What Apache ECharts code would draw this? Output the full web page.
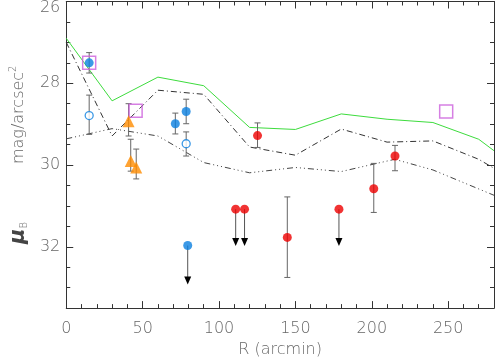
<!DOCTYPE html>
<html>
<head>
<meta charset="utf-8">
<script src="https://cdn.jsdelivr.net/npm/echarts@6/dist/echarts.min.js"></script>
<style>
  html, body { margin: 0; padding: 0; background: #fff; }
  #chart { width: 497px; height: 363px; }
</style>
</head>
<body>
<div id="chart"></div>
<script>
// model profiles [R, mu]
const greenModel = [[0, 26.9], [30, 28.43], [60, 27.85], [90, 28.06], [120, 29.08], [150, 29.13],
  [180, 28.75], [210, 28.88], [240, 28.96], [270, 29.37], [280, 29.65]];
const dashDotModel = [[0, 27.0], [30, 29.29], [60, 28.17], [90, 28.27], [120, 29.56], [150, 29.76],
  [180, 29.12], [210, 29.44], [240, 29.41], [270, 29.86], [280, 30.08]];
const dashDot3Model = [[0, 29.36], [30, 29.11], [60, 29.29], [90, 29.94], [120, 30.19], [150, 30.06],
  [180, 30.16], [215, 29.86], [240, 30.12], [280, 30.74]];

// measurements [R, mu, errTop, errBottom]
const blueFilled = [[15, 27.5, 27.25, 27.75], [71.4, 28.99, 28.73, 29.24], [78.5, 28.69, 28.39, 28.99]];
const blueOpen = [[15, 28.79, 28.29, 29.25], [78.5, 29.48, 29.19, 29.78]];
const orangeTri = [[40.8, 28.93, 28.5, 29.29], [42.2, 29.9, 29.37, 30.15], [45.8, 30.06, 29.61, 30.34]];
const redFilled = [[125.2, 29.28, 28.97, 29.57], [215.2, 29.78, 29.52, 30.14],
  [144.7, 31.77, 30.78, 32.75], [201.3, 30.58, 29.96, 31.16]];
const magentaSq = [[15, 27.5], [45.4, 28.67], [248.7, 28.69]];

// upper limits [R, mu, arrow tip]
const blueLimits = [[79.5, 31.97, 32.92]];
const redLimits = [[110.9, 31.08, 31.98], [116.7, 31.08, 31.98], [178.5, 31.08, 31.98]];

const xTicks = [0, 50, 100, 150, 200, 250];
const yTicks = [26, 28, 30, 32];

const font = 'DejaVu Sans';
const textColor = '#666';
const axisColor = '#333';

const chart = echarts.init(document.getElementById('chart'));

function errBars(params, api) {
  const x = api.value(0);
  const a = api.coord([x, api.value(2)]);
  const b = api.coord([x, api.value(3)]);
  const st = { stroke: '#666', lineWidth: 1 };
  const h = 3;
  return {
    type: 'group',
    children: [
      { type: 'line', shape: { x1: a[0], y1: a[1], x2: b[0], y2: b[1] }, style: st },
      { type: 'line', shape: { x1: a[0] - h, y1: a[1], x2: a[0] + h, y2: a[1] }, style: st },
      { type: 'line', shape: { x1: b[0] - h, y1: b[1], x2: b[0] + h, y2: b[1] }, style: st }
    ]
  };
}

function arrows(params, api) {
  const x = api.value(0);
  const p = api.coord([x, api.value(1)]);
  const t = api.coord([x, api.value(2)]);
  return {
    type: 'group',
    children: [
      { type: 'line', shape: { x1: p[0], y1: p[1], x2: t[0], y2: t[1] - 6 }, style: { stroke: '#555', lineWidth: 1 } },
      { type: 'polygon', shape: { points: [[t[0] - 3.5, t[1] - 8], [t[0] + 3.5, t[1] - 8], [t[0], t[1]]] }, style: { fill: '#000' } }
    ]
  };
}

const axisCommon = {
  type: 'value',
  splitLine: { show: false },
  axisLine: { show: true, onZero: false, lineStyle: { color: axisColor, width: 1 } },
  axisTick: { show: true, inside: true, length: 7, lineStyle: { color: axisColor } },
  minorTick: { show: true, length: 4, lineStyle: { color: axisColor } }
};

const xBase = Object.assign({}, axisCommon, {
  min: 0, max: 280, interval: 50,
  minorTick: Object.assign({}, axisCommon.minorTick, { splitNumber: 5 })
});
const yBase = Object.assign({}, axisCommon, {
  min: 26, max: 33.5, interval: 2, inverse: true,
  minorTick: Object.assign({}, axisCommon.minorTick, { splitNumber: 4 })
});

const option = {
  animation: false,
  backgroundColor: '#fff',
  grid: { left: 59, right: 1, top: 1, bottom: 54 },
  xAxis: [
    Object.assign({}, xBase, {
      position: 'bottom',
      name: 'R (arcmin)', nameLocation: 'middle', nameGap: 33,
      nameTextStyle: { fontFamily: font, fontSize: 16, fontWeight: 200, color: textColor },
      axisLabel: {
        margin: 13, fontFamily: font, fontSize: 16, fontWeight: 200, color: textColor,
        formatter: v => xTicks.includes(v) ? String(v) : ''
      }
    }),
    Object.assign({}, xBase, { position: 'top', axisLabel: { show: false } })
  ],
  yAxis: [
    Object.assign({}, yBase, {
      position: 'left',
      name: '{mu|μ}{sub|B}{sp|}mag/arcsec{sup|2}',
      nameLocation: 'middle', nameGap: 30, nameRotate: 90,
      nameTextStyle: {
        fontFamily: font, fontSize: 16, fontWeight: 200, color: textColor,
        rich: {
          mu: { fontFamily: font, fontSize: 21, fontStyle: 'italic', fontWeight: 'bold', color: '#444' },
          sub: { fontFamily: font, fontSize: 10, fontWeight: 200, color: textColor, verticalAlign: 'bottom' },
          sp: { width: 58 },
          sup: { fontFamily: font, fontSize: 10, fontWeight: 200, color: textColor, verticalAlign: 'top' }
        }
      },
      axisLabel: {
        margin: 6, fontFamily: font, fontSize: 16, fontWeight: 200, color: textColor,
        formatter: v => v === 26 ? '{t|26}' : (yTicks.includes(v) ? String(v) : ''),
        rich: { t: { fontFamily: font, fontSize: 16, fontWeight: 200, color: textColor, padding: [13, 0, 0, 0] } }
      }
    }),
    Object.assign({}, yBase, { position: 'right', axisLabel: { show: false } })
  ],
  series: [
    { type: 'line', data: greenModel, symbol: 'none', lineStyle: { color: '#3ddc3d', width: 1 }, z: 1 },
    { type: 'line', data: dashDotModel, symbol: 'none', lineStyle: { color: '#333', width: 1, type: [6, 3, 1, 3] }, z: 1 },
    { type: 'line', data: dashDot3Model, symbol: 'none', lineStyle: { color: '#444', width: 1, type: [6, 3, 1, 3, 1, 3, 1, 3] }, z: 1 },
    { type: 'custom', renderItem: errBars, data: blueFilled.concat(blueOpen, orangeTri, redFilled), z: 2 },
    { type: 'custom', renderItem: arrows, data: blueLimits.concat(redLimits), z: 2 },
    { type: 'scatter', data: magentaSq, symbol: 'rect', symbolSize: 13,
      itemStyle: { color: 'rgba(0,0,0,0)', borderColor: '#cc5fdc', borderWidth: 1.5 }, z: 3 },
    { type: 'scatter', data: blueFilled.concat(blueLimits), symbolSize: 9, itemStyle: { color: '#0b80e0' }, z: 4 },
    { type: 'scatter', data: blueOpen, symbolSize: 8,
      itemStyle: { color: '#fff', borderColor: '#0b80e0', borderWidth: 1.3 }, z: 4 },
    { type: 'scatter', data: orangeTri, symbol: 'triangle', symbolSize: 12, itemStyle: { color: '#ff8c00' }, z: 4 },
    { type: 'scatter', data: redFilled.concat(redLimits), symbolSize: 9, itemStyle: { color: '#ee0000' }, z: 4 }
  ]
};

chart.setOption(option);
</script>
</body>
</html>
